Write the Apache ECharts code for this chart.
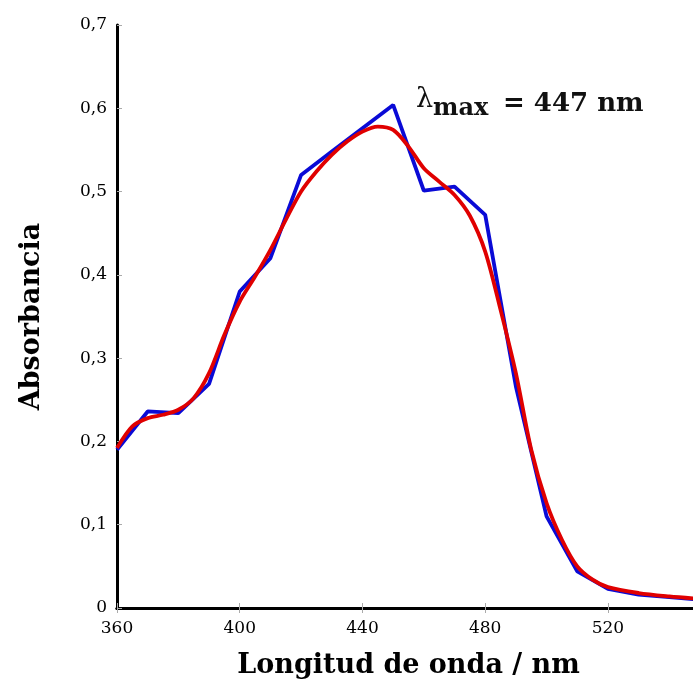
<!DOCTYPE html>
<html>
<head>
<meta charset="utf-8">
<script src="https://cdn.jsdelivr.net/npm/echarts@6/dist/echarts.min.js"></script>
<style>html,body{margin:0;padding:0;background:#fff}#c{width:693px;height:681px}</style>
</head>
<body>
<div id="c"></div>
<script>
// Measured spectrum (blue), every 10 nm
const wlMeasured = [360,370,380,390,400,410,420,430,440,450,460,470,480,490,500,510,520,530,540,550];
const absMeasured = [0.190,0.236,0.234,0.269,0.380,0.420,0.520,0.548,0.576,0.604,0.501,0.506,0.472,0.266,0.110,0.044,0.023,0.016,0.013,0.010];
// Fitted/smoothed spectrum (red), every 5 nm
const wlFit = [360,365,370,375,380,385,390,395,400,405,410,415,420,425,430,435,440,445,450,455,460,465,470,475,480,485,490,495,500,505,510,515,520,530,540,550];
const absFit = [0.192,0.218,0.228,0.232,0.238,0.252,0.282,0.328,0.368,0.398,0.430,0.466,0.500,0.524,0.544,0.560,0.572,0.578,0.574,0.554,0.528,0.512,0.496,0.471,0.428,0.358,0.282,0.190,0.126,0.082,0.050,0.034,0.025,0.018,0.014,0.011];
const xTicks = [360,400,440,480,520];

const pair = (xs, ys) => xs.map((x,i)=>[x, ys[i]]);
const serif = '"DejaVu Serif", serif';
const fmtY = v => v === 0 ? '0' : v.toFixed(1).replace('.', ',');

const chart = echarts.init(document.getElementById('c'), null, {renderer:'canvas'});
const tickStyle = {show:true, inside:true, length:5, lineStyle:{color:'#aaa', width:1}};
const frame = {show:true, lineStyle:{color:'#000', width:3}};
chart.setOption({
  animation:false,
  backgroundColor:'#fff',
  grid:{left:117, width:583, top:25, height:583, containLabel:false, outerBoundsMode:'none'},
  xAxis:[{
    type:'value', min:360, max:550, interval:40, position:'bottom',
    axisLine:frame, axisTick:tickStyle, splitLine:{show:false},
    axisLabel:{color:'#000', fontFamily:serif, fontSize:17, margin:12,
      formatter: v => xTicks.includes(v) ? String(v) : ''},
    name:'Longitud de onda / nm', nameLocation:'middle', nameGap:44,
    nameTextStyle:{color:'#000', fontFamily:serif, fontWeight:'bold', fontSize:27}
  },{
    type:'value', min:360, max:550, interval:40, position:'top',
    axisLine:frame, axisTick:tickStyle, axisLabel:{show:false}, splitLine:{show:false}
  }],
  yAxis:[{
    type:'value', min:0, max:0.7, interval:0.1, position:'left',
    axisLine:frame, axisTick:tickStyle, splitLine:{show:false},
    axisLabel:{color:'#000', fontFamily:serif, fontSize:17, margin:10, formatter: fmtY},
    name:'Absorbancia', nameLocation:'middle', nameGap:72, nameRotate:90,
    nameTextStyle:{color:'#000', fontFamily:serif, fontWeight:'bold', fontSize:27}
  },{
    type:'value', min:0, max:0.7, interval:0.1, position:'right',
    axisLine:frame, axisTick:tickStyle, axisLabel:{show:false}, splitLine:{show:false}
  }],
  series:[{
    type:'line', data:pair(wlMeasured, absMeasured), showSymbol:false,
    lineStyle:{color:'#0a0ad6', width:3.8}, z:2
  },{
    type:'line', data:pair(wlFit, absFit), showSymbol:false, smooth:0.3,
    lineStyle:{color:'#e00000', width:3.8}, z:3
  }],
  graphic:[
    {type:'text', left:416, top:86, style:{text:'λ', font:'27px '+serif, fill:'#111'}},
    {type:'text', left:433, top:97, style:{text:'max', font:'bold 24px '+serif, fill:'#111'}},
    {type:'text', left:503, top:91, style:{text:'= 447 nm', font:'bold 26px '+serif, fill:'#111'}}
  ]
});
</script>
</body>
</html>
